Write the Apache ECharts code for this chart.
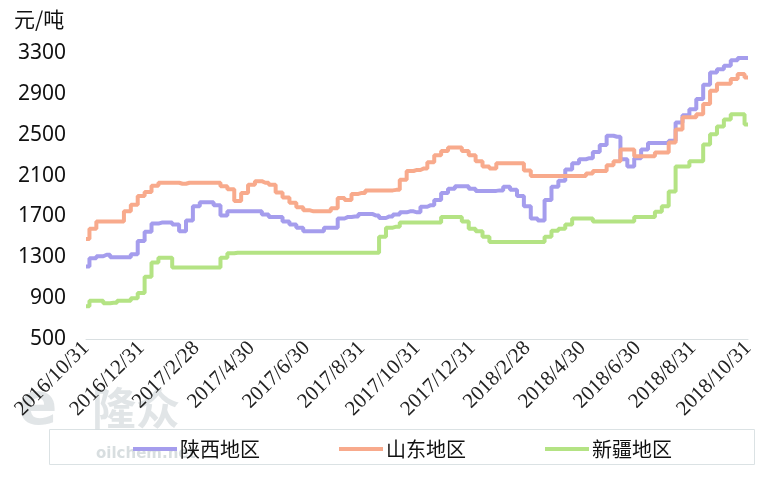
<!DOCTYPE html>
<html>
<head>
<meta charset="utf-8">
<script src="https://cdn.jsdelivr.net/npm/echarts@6/dist/echarts.min.js"></script>
<style>html,body{margin:0;padding:0;background:#fff}#c{width:776px;height:477px}</style>
</head>
<body>
<div id="c"></div>
<script>
// Tick labels (every two months), 8 samples per interval
var tickLabels = ['2016/10/31','2016/12/31','2017/2/28','2017/4/30','2017/6/30','2017/8/31','2017/10/31','2017/12/31','2018/2/28','2018/4/30','2018/6/30','2018/8/31','2018/10/31'];
var seriesNames = ['陕西地区','山东地区','新疆地区'];
var shaanxi = [1210,1290,1310,1325,1300,1300,1300,1330,1460,1550,1630,1640,1640,1620,1555,1660,
  1800,1840,1840,1810,1710,1750,1750,1750,1750,1750,1720,1695,1695,1650,1620,1590,
  1555,1555,1555,1590,1590,1680,1695,1700,1725,1725,1710,1685,1700,1720,1740,1750,
  1740,1795,1810,1860,1930,1970,1995,1995,1970,1950,1950,1950,1955,1990,1960,1900,
  1800,1680,1660,1860,1990,2050,2160,2220,2260,2270,2330,2400,2490,2480,2260,2190,
  2270,2355,2420,2420,2420,2440,2620,2690,2750,2850,2990,3110,3140,3175,3230,3250,3250];
var shandong = [1480,1580,1650,1650,1650,1650,1750,1815,1900,1940,2000,2030,2030,2030,2020,2030,
  2030,2030,2030,2030,1995,1965,1850,1930,2010,2045,2030,2010,1935,1885,1835,1790,
  1760,1750,1750,1750,1780,1880,1860,1920,1930,1955,1955,1955,1955,1960,2060,2145,
  2155,2170,2230,2300,2340,2375,2375,2340,2300,2240,2190,2170,2220,2220,2220,2220,
  2150,2095,2095,2095,2095,2095,2095,2095,2095,2120,2145,2145,2200,2240,2355,2355,
  2290,2290,2290,2325,2325,2425,2550,2670,2670,2700,2800,2930,3000,3000,3045,3095,3060];
var xinjiang = [820,875,875,850,855,875,875,900,950,1110,1250,1295,1295,1200,1200,1200,
  1200,1200,1200,1200,1295,1340,1345,1345,1345,1345,1345,1345,1345,1345,1345,1345,
  1345,1345,1345,1345,1345,1345,1345,1345,1345,1345,1345,1500,1590,1600,1640,1640,
  1640,1640,1640,1640,1695,1695,1695,1650,1580,1555,1500,1450,1450,1450,1450,1450,
  1450,1450,1450,1500,1560,1580,1620,1680,1680,1680,1650,1650,1650,1650,1650,1650,
  1695,1695,1695,1745,1800,1945,2190,2190,2240,2240,2405,2505,2580,2650,2700,2700,2600];
var colors = ['#a59ded','#f8aa8c','#b4e384'];

// Build category names: tick dates plus intermediate dates
function parseD(s){var p=s.split('/');return Date.UTC(+p[0],+p[1]-1,+p[2]);}
function fmtD(t){var d=new Date(t);return d.getUTCFullYear()+'/'+(d.getUTCMonth()+1)+'/'+d.getUTCDate();}
var STEPS = 8;
var categories = [];
for (var k=0;k<tickLabels.length-1;k++){
  var a=parseD(tickLabels[k]), b=parseD(tickLabels[k+1]);
  categories.push(tickLabels[k]);
  for (var j=1;j<STEPS;j++){
    var t=a+Math.round((b-a)/86400000*j/STEPS)*86400000;
    categories.push(fmtD(t));
  }
}
categories.push(tickLabels[tickLabels.length-1]);

var chart = echarts.init(document.getElementById('c'));
var data = [shaanxi, shandong, xinjiang];
chart.setOption({
  animation:false,
  color: colors,
  grid:{left:86,right:28,top:53,bottom:138},
  legend:{
    left:128, top:434, itemWidth:44, itemHeight:4, itemGap:79,
    icon:'rect',
    textStyle:{fontFamily:'Noto Sans CJK SC',fontSize:20,color:'#111',padding:[0,0,0,-2]},
    data: seriesNames
  },
  graphic:[
    {type:'rect',left:47,top:427,shape:{width:705,height:35},style:{fill:'none',stroke:'#dbe2e4',lineWidth:1},silent:true},
    {type:'text',left:14,top:9,style:{text:'元/吨',font:'21px "Noto Sans CJK SC"',fill:'#111'}},
    {type:'text',left:18,top:380,style:{text:'e',font:'bold 58px "DejaVu Sans"',fill:'rgba(200,208,211,0.55)'},silent:true},
    {type:'text',left:92,top:386,style:{text:'隆众',font:'bold 44px "Noto Sans CJK SC"',fill:'rgba(200,208,211,0.55)'},silent:true},
    {type:'text',left:96,top:447,style:{text:'oilchem.net',font:'bold 15px "DejaVu Sans"',fill:'rgba(200,208,211,0.7)'},silent:true}
  ],
  xAxis:{
    type:'category', data:categories, boundaryGap:false,
    axisLine:{lineStyle:{color:'#d9dfe1',width:1}},
    axisTick:{show:false},
    axisLabel:{interval:STEPS-1,rotate:45,margin:6,color:'#222',fontFamily:'Liberation Serif',fontSize:21}
  },
  yAxis:{
    type:'value', min:500, max:3300, interval:400,
    axisLine:{show:false}, axisTick:{show:false}, splitLine:{show:false},
    axisLabel:{margin:20,color:'#111',fontFamily:'Noto Sans',fontSize:21,formatter:function(v){return String(v);}}
  },
  series: seriesNames.map(function(n,i){
    return {name:n,type:'line',data:data[i],step:'middle',symbol:'none',
      lineStyle:{width:4,color:colors[i]},itemStyle:{color:colors[i]}};
  })
});
</script>
</body>
</html>
